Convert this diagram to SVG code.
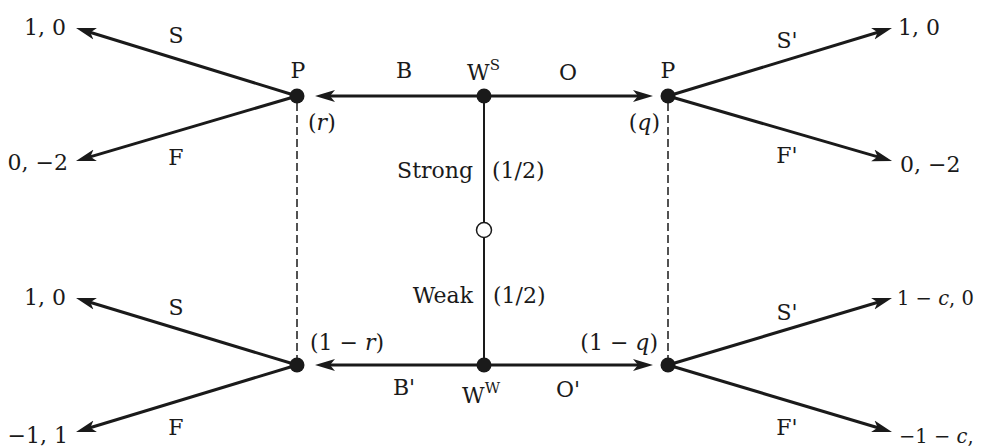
<svg xmlns="http://www.w3.org/2000/svg" width="982" height="447" viewBox="0 0 982 447">
<style>
text{font-family:"DejaVu Serif","Noto Serif","Liberation Serif",serif;font-size:22px;fill:#1a1a1a}
.it{font-style:italic}
.sm{font-size:19.5px}
.e{stroke:#1a1a1a;stroke-width:3;fill:none;marker-end:url(#ah)}
.v{stroke:#1a1a1a;stroke-width:2;fill:none}
.d{stroke:#1a1a1a;stroke-width:1.5;stroke-dasharray:8 4;fill:none}
.n{fill:#1a1a1a}
.sup{font-size:15px}
</style>
<defs>
<marker id="ah" viewBox="0 -7 20 14" refX="8" refY="0" markerWidth="20" markerHeight="14" markerUnits="userSpaceOnUse" orient="auto">
<path d="M0,-6 L20,0 L0,6 L5,0 Z" fill="#1a1a1a"/>
</marker>
</defs>
<rect width="982" height="447" fill="#fff"/>
<g id="connectors">
<line class="e" x1="297" y1="96" x2="87.5" y2="31.5"/>
<line class="e" x1="297" y1="96" x2="87.5" y2="157.6"/>
<line class="e" x1="668" y1="96" x2="880.5" y2="31.5"/>
<line class="e" x1="668" y1="96" x2="880.5" y2="157.6"/>
<line class="e" x1="297" y1="365" x2="87.5" y2="301.5"/>
<line class="e" x1="297" y1="365" x2="87.5" y2="428.5"/>
<line class="e" x1="668" y1="365" x2="880.5" y2="301.5"/>
<line class="e" x1="668" y1="365" x2="880.5" y2="428.5"/>
<line class="e" x1="484" y1="96" x2="327" y2="96"/>
<line class="e" x1="484" y1="96" x2="641" y2="96"/>
<line class="e" x1="484" y1="365" x2="327" y2="365"/>
<line class="e" x1="484" y1="365" x2="641" y2="365"/>
<line class="v" x1="484" y1="96" x2="484" y2="222"/>
<line class="v" x1="484" y1="238" x2="484" y2="365"/>
<line class="d" x1="297" y1="103" x2="297" y2="358"/>
<line class="d" x1="668" y1="103" x2="668" y2="358"/>
</g>
<g id="edge-labels">
<text x="176" y="43" text-anchor="middle">S</text>
<text x="176" y="165" text-anchor="middle">F</text>
<text x="787" y="48" text-anchor="middle">S'</text>
<text x="787" y="163" text-anchor="middle">F'</text>
<text x="176" y="315" text-anchor="middle">S</text>
<text x="176" y="435" text-anchor="middle">F</text>
<text x="787" y="320" text-anchor="middle">S'</text>
<text x="787" y="435" text-anchor="middle">F'</text>
<text x="404" y="78" text-anchor="middle">B</text>
<text x="568" y="80" text-anchor="middle">O</text>
<text x="404" y="395" text-anchor="middle">B'</text>
<text x="568" y="397" text-anchor="middle">O'</text>
<text x="473" y="178" text-anchor="end">Strong</text>
<text x="492" y="178">(1/2)</text>
<text x="473" y="303" text-anchor="end">Weak</text>
<text x="493" y="303">(1/2)</text>
</g>
<g id="payoffs">
<text x="66" y="35" text-anchor="end">1, 0</text>
<text x="68" y="170" text-anchor="end">0, −2</text>
<text x="66" y="305" text-anchor="end">1, 0</text>
<text x="68" y="443" text-anchor="end">−1, 1</text>
<text x="898" y="35">1, 0</text>
<text x="900" y="172">0, −2</text>
<text class="sm" x="897" y="305">1 − <tspan class="it">c</tspan>, 0</text>
<text class="sm" x="899" y="443">−1 − <tspan class="it">c</tspan>,</text>
</g>
<g id="P-top-left">
<circle class="n" cx="297" cy="96" r="7.5"/>
<text x="298" y="78" text-anchor="middle">P</text>
<text x="308" y="130">(<tspan class="it">r</tspan>)</text>
</g>
<g id="P-bottom-left">
<circle class="n" cx="297" cy="365" r="7.5"/>
<text x="310" y="350">(1 − <tspan class="it">r</tspan>)</text>
</g>
<g id="WS">
<circle class="n" cx="484" cy="96" r="7.5"/>
<text x="467" y="80">W<tspan class="sup" dy="-10">S</tspan></text>
</g>
<g id="chance">
<circle cx="484" cy="230" r="7.5" fill="#fff" stroke="#1a1a1a" stroke-width="1.5"/>
</g>
<g id="WW">
<circle class="n" cx="484" cy="365" r="7.5"/>
<text x="462" y="403">W<tspan class="sup" dy="-10">W</tspan></text>
</g>
<g id="P-top-right">
<circle class="n" cx="668" cy="96" r="7.5"/>
<text x="668" y="78" text-anchor="middle">P</text>
<text x="660" y="130" text-anchor="end">(<tspan class="it">q</tspan>)</text>
</g>
<g id="P-bottom-right">
<circle class="n" cx="668" cy="365" r="7.5"/>
<text x="658" y="350" text-anchor="end">(1 − <tspan class="it">q</tspan>)</text>
</g>
</svg>
